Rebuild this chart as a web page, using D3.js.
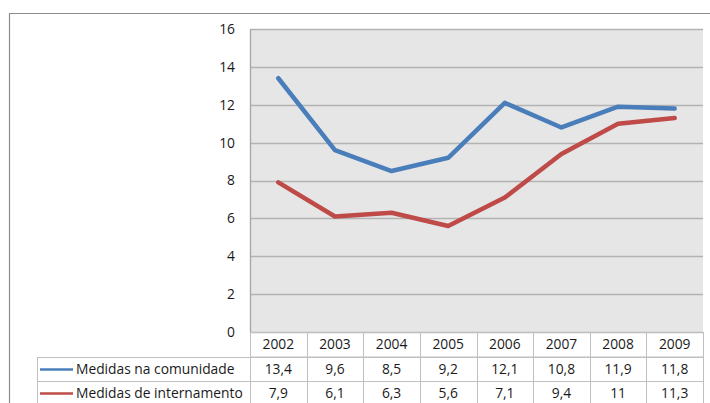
<!DOCTYPE html>
<html>
<head>
<meta charset="utf-8">
<script src="https://cdn.jsdelivr.net/npm/d3@7"></script>
<style>
  html, body { margin: 0; padding: 0; background: #fff; }
  svg { display: block; }
</style>
</head>
<body>
<svg id="chart" width="710" height="403"></svg>
<script>
// Anos e valores das duas séries
const years = ["2002", "2003", "2004", "2005", "2006", "2007", "2008", "2009"];
const comunidade = [13.4, 9.6, 8.5, 9.2, 12.1, 10.8, 11.9, 11.8];
const internamento = [7.9, 6.1, 6.3, 5.6, 7.1, 9.4, 11, 11.3];
const seriesNames = ["Medidas na comunidade", "Medidas de internamento"];
const seriesColors = ["#4A7EBB", "#BE4B48"];
const yTicks = [0, 2, 4, 6, 8, 10, 12, 14, 16];

const series = [comunidade, internamento];
const fmt = v => String(v).replace(".", ",");
const font = "'Open Sans', 'DejaVu Sans', sans-serif";
const fontSize = 13.8;
const textColor = "#1a1a1a";

const svg = d3.select("#chart");

// Moldura exterior
svg.append("path")
  .attr("d", "M9.5,403 V13.5 H710")
  .attr("fill", "none")
  .attr("stroke", "#8c8c8c")
  .attr("stroke-width", 1.2);

const plot = { left: 250, right: 703, top: 29, bottom: 332 };

const x = d3.scaleBand().domain(years).range([plot.left, plot.right]).padding(0);
const y = d3.scaleLinear().domain([0, 16]).range([plot.bottom, plot.top]);

// Fundo da área de desenho
svg.append("rect")
  .attr("x", plot.left).attr("y", plot.top)
  .attr("width", plot.right - plot.left).attr("height", plot.bottom - plot.top)
  .attr("fill", "#E6E6E6");

// Linhas de grelha
svg.append("g")
  .selectAll("line")
  .data(yTicks)
  .join("line")
  .attr("x1", plot.left).attr("x2", plot.right)
  .attr("y1", d => Math.round(y(d)) + 0.5).attr("y2", d => Math.round(y(d)) + 0.5)
  .attr("stroke", "#B3B3B3").attr("stroke-width", 1.3);

// Eixo vertical
const yAxis = d3.axisLeft(y).tickValues(yTicks).tickSize(0).tickPadding(15);
const gy = svg.append("g")
  .attr("transform", `translate(${plot.left},0)`)
  .call(yAxis);
gy.select(".domain").attr("stroke", "#A6A6A6").attr("stroke-width", 1.3);
gy.selectAll("text")
  .attr("font-family", font).attr("font-size", fontSize).attr("fill", textColor);

// Séries
const line = d3.line()
  .x((d, i) => x(years[i]) + x.bandwidth() / 2)
  .y(d => y(d));

svg.append("g")
  .selectAll("path")
  .data(series)
  .join("path")
  .attr("d", line)
  .attr("fill", "none")
  .attr("stroke", (d, i) => seriesColors[i])
  .attr("stroke-width", 4.5)
  .attr("stroke-linejoin", "round")
  .attr("stroke-linecap", "round");

// Tabela de dados
const rowH = 24;
const tableLeft = 37;
const tableTop = plot.bottom;
const grid = "#BFBFBF";
const table = svg.append("g");

// Linha dos anos
table.append("rect")
  .attr("x", plot.left + 0.5).attr("y", tableTop + 0.5)
  .attr("width", plot.right - plot.left).attr("height", rowH + 0.5)
  .attr("fill", "none").attr("stroke", grid);

// Linhas das séries
series.forEach((s, r) => {
  const top = tableTop + rowH * (r + 1) + 1;
  table.append("rect")
    .attr("x", tableLeft + 0.5).attr("y", top + 0.5)
    .attr("width", plot.right - tableLeft).attr("height", rowH)
    .attr("fill", "none").attr("stroke", grid);
  table.append("line")
    .attr("x1", tableLeft + 3).attr("x2", tableLeft + 36)
    .attr("y1", top + rowH / 2 + 0.5).attr("y2", top + rowH / 2 + 0.5)
    .attr("stroke", seriesColors[r]).attr("stroke-width", 2.5);
  table.append("text")
    .attr("x", tableLeft + 39).attr("y", top + rowH / 2 + 5)
    .attr("font-family", font).attr("font-size", fontSize).attr("fill", textColor)
    .text(seriesNames[r]);
  table.selectAll(null)
    .data(s)
    .join("text")
    .attr("x", (d, i) => x(years[i]) + x.bandwidth() / 2)
    .attr("y", top + rowH / 2 + 5)
    .attr("text-anchor", "middle")
    .attr("font-family", font).attr("font-size", fontSize).attr("fill", textColor)
    .text(fmt);
});

// Divisórias verticais e rótulos dos anos
table.selectAll(null)
  .data(years)
  .join("line")
  .attr("x1", d => Math.round(x(d)) + 0.5).attr("x2", d => Math.round(x(d)) + 0.5)
  .attr("y1", tableTop).attr("y2", 403)
  .attr("stroke", grid);

table.selectAll(null)
  .data(years)
  .join("text")
  .attr("x", d => x(d) + x.bandwidth() / 2)
  .attr("y", tableTop + rowH / 2 + 5)
  .attr("text-anchor", "middle")
  .attr("font-family", font).attr("font-size", fontSize).attr("fill", textColor)
  .text(d => d);
</script>
</body>
</html>
